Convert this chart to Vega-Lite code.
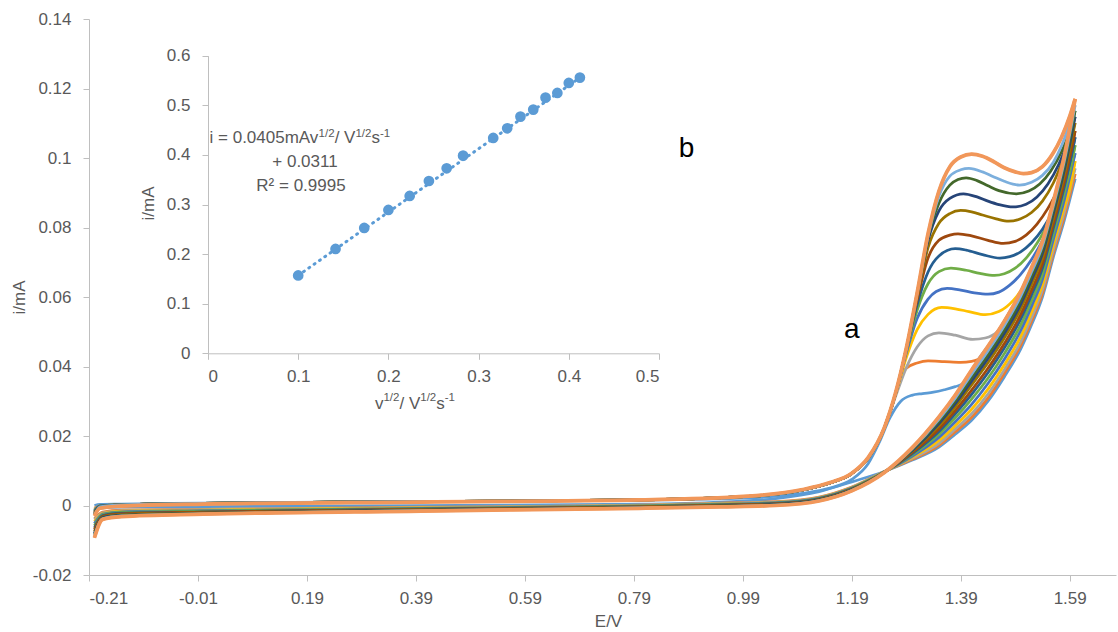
{
"$schema":"https://vega.github.io/schema/vega-lite/v6.json",
"width":1027,"height":556,"autosize":"none",
"padding":{"left":89,"top":19,"right":2,"bottom":57},
"config":{"view":{"stroke":null},"font":"Liberation Sans",
 "axis":{"domainColor":"#BFBFBF","tickColor":"#BFBFBF","tickSize":6,"labelColor":"#595959","labelFontSize":17,"labelFont":"Liberation Sans","titleColor":"#595959","titleFontSize":17,"titleFontWeight":"normal","titleFont":"Liberation Sans","grid":false}},
"datasets":{
"cv":[
{"c":1,"b":"f","E":-0.2,"i":0},{"c":1,"b":"f","E":-0.19,"i":0.0003},{"c":1,"b":"f","E":-0.15,"i":0.0004},{"c":1,"b":"f","E":0,"i":0.0007},{"c":1,"b":"f","E":0.4,"i":0.0011},{"c":1,"b":"f","E":0.8,"i":0.0015},{"c":1,"b":"f","E":1,"i":0.0022},{"c":1,"b":"f","E":1.1,"i":0.0035},{"c":1,"b":"f","E":1.15,"i":0.005},{"c":1,"b":"f","E":1.19,"i":0.0075},{"c":1,"b":"f","E":1.22,"i":0.012},{"c":1,"b":"f","E":1.24,"i":0.018},{"c":1,"b":"f","E":1.26,"i":0.0252},{"c":1,"b":"f","E":1.28,"i":0.03},{"c":1,"b":"f","E":1.3,"i":0.0317},{"c":1,"b":"f","E":1.32,"i":0.0322},{"c":1,"b":"f","E":1.34,"i":0.0326},{"c":1,"b":"f","E":1.36,"i":0.0333},{"c":1,"b":"f","E":1.38,"i":0.0342},{"c":1,"b":"f","E":1.395,"i":0.0352},{"c":1,"b":"f","E":1.42,"i":0.0415},{"c":1,"b":"f","E":1.45,"i":0.048},{"c":1,"b":"f","E":1.48,"i":0.0556},{"c":1,"b":"f","E":1.5,"i":0.061},{"c":1,"b":"f","E":1.52,"i":0.0666},{"c":1,"b":"f","E":1.54,"i":0.0726},{"c":1,"b":"f","E":1.56,"i":0.079},{"c":1,"b":"f","E":1.58,"i":0.086},{"c":1,"b":"f","E":1.6,"i":0.094},
{"c":1,"b":"r","E":1.6,"i":0.094},{"c":1,"b":"r","E":1.58,"i":0.082},{"c":1,"b":"r","E":1.56,"i":0.0715},{"c":1,"b":"r","E":1.54,"i":0.06},{"c":1,"b":"r","E":1.52,"i":0.052},{"c":1,"b":"r","E":1.5,"i":0.045},{"c":1,"b":"r","E":1.47,"i":0.037},{"c":1,"b":"r","E":1.44,"i":0.03},{"c":1,"b":"r","E":1.41,"i":0.0245},{"c":1,"b":"r","E":1.38,"i":0.0205},{"c":1,"b":"r","E":1.35,"i":0.0168},{"c":1,"b":"r","E":1.3,"i":0.013},{"c":1,"b":"r","E":1.25,"i":0.0098},{"c":1,"b":"r","E":1.19,"i":0.0068},{"c":1,"b":"r","E":1.13,"i":0.004},{"c":1,"b":"r","E":1.05,"i":0.002},{"c":1,"b":"r","E":0.95,"i":0.001},{"c":1,"b":"r","E":0.8,"i":0.0004},{"c":1,"b":"r","E":0.4,"i":0},{"c":1,"b":"r","E":0,"i":-0.0003},{"c":1,"b":"r","E":-0.15,"i":-0.0005},{"c":1,"b":"r","E":-0.185,"i":-0.0007},{"c":1,"b":"r","E":-0.2,"i":-0.0012},

{"c":2,"b":"f","E":-0.2,"i":-0.0008},{"c":2,"b":"f","E":-0.19,"i":-0.0001},{"c":2,"b":"f","E":-0.15,"i":0.0002},{"c":2,"b":"f","E":0,"i":0.0006},{"c":2,"b":"f","E":0.4,"i":0.0011},{"c":2,"b":"f","E":0.8,"i":0.0016},{"c":2,"b":"f","E":1,"i":0.0026},{"c":2,"b":"f","E":1.1,"i":0.0045},{"c":2,"b":"f","E":1.15,"i":0.0065},{"c":2,"b":"f","E":1.19,"i":0.0092},{"c":2,"b":"f","E":1.22,"i":0.0136},{"c":2,"b":"f","E":1.25,"i":0.0222},{"c":2,"b":"f","E":1.27,"i":0.0318},{"c":2,"b":"f","E":1.28,"i":0.0372},{"c":2,"b":"f","E":1.29,"i":0.0395},{"c":2,"b":"f","E":1.31,"i":0.041},{"c":2,"b":"f","E":1.33,"i":0.0416},{"c":2,"b":"f","E":1.36,"i":0.0414},{"c":2,"b":"f","E":1.39,"i":0.0412},{"c":2,"b":"f","E":1.41,"i":0.0415},{"c":2,"b":"f","E":1.43,"i":0.0428},{"c":2,"b":"f","E":1.46,"i":0.05},{"c":2,"b":"f","E":1.48,"i":0.0555},{"c":2,"b":"f","E":1.5,"i":0.061},{"c":2,"b":"f","E":1.52,"i":0.0668},{"c":2,"b":"f","E":1.54,"i":0.073},{"c":2,"b":"f","E":1.56,"i":0.0798},{"c":2,"b":"f","E":1.58,"i":0.0872},{"c":2,"b":"f","E":1.6,"i":0.0954},
{"c":2,"b":"r","E":1.6,"i":0.0954},{"c":2,"b":"r","E":1.58,"i":0.0831},{"c":2,"b":"r","E":1.56,"i":0.0725},{"c":2,"b":"r","E":1.54,"i":0.061},{"c":2,"b":"r","E":1.52,"i":0.053},{"c":2,"b":"r","E":1.5,"i":0.046},{"c":2,"b":"r","E":1.47,"i":0.038},{"c":2,"b":"r","E":1.44,"i":0.0309},{"c":2,"b":"r","E":1.41,"i":0.0254},{"c":2,"b":"r","E":1.38,"i":0.0212},{"c":2,"b":"r","E":1.35,"i":0.0173},{"c":2,"b":"r","E":1.3,"i":0.0132},{"c":2,"b":"r","E":1.25,"i":0.0098},{"c":2,"b":"r","E":1.19,"i":0.0053},{"c":2,"b":"r","E":1.13,"i":0.0024},{"c":2,"b":"r","E":1.05,"i":0.0011},{"c":2,"b":"r","E":0.95,"i":0.0007},{"c":2,"b":"r","E":0.8,"i":0.0001},{"c":2,"b":"r","E":0.4,"i":-0.0005},{"c":2,"b":"r","E":0,"i":-0.0011},{"c":2,"b":"r","E":-0.15,"i":-0.0013},{"c":2,"b":"r","E":-0.185,"i":-0.0019},{"c":2,"b":"r","E":-0.2,"i":-0.0037},

{"c":3,"b":"f","E":-0.2,"i":-0.001},{"c":3,"b":"f","E":-0.19,"i":-0.0001},{"c":3,"b":"f","E":-0.15,"i":0.0002},{"c":3,"b":"f","E":0,"i":0.0006},{"c":3,"b":"f","E":0.4,"i":0.0011},{"c":3,"b":"f","E":0.8,"i":0.0016},{"c":3,"b":"f","E":1,"i":0.0026},{"c":3,"b":"f","E":1.1,"i":0.0045},{"c":3,"b":"f","E":1.15,"i":0.0065},{"c":3,"b":"f","E":1.19,"i":0.0092},{"c":3,"b":"f","E":1.22,"i":0.0136},{"c":3,"b":"f","E":1.25,"i":0.0222},{"c":3,"b":"f","E":1.27,"i":0.0312},{"c":3,"b":"f","E":1.29,"i":0.0396},{"c":3,"b":"f","E":1.31,"i":0.0456},{"c":3,"b":"f","E":1.33,"i":0.0488},{"c":3,"b":"f","E":1.35,"i":0.0497},{"c":3,"b":"f","E":1.38,"i":0.049},{"c":3,"b":"f","E":1.412,"i":0.0478},{"c":3,"b":"f","E":1.435,"i":0.0482},{"c":3,"b":"f","E":1.457,"i":0.05},{"c":3,"b":"f","E":1.48,"i":0.0558},{"c":3,"b":"f","E":1.5,"i":0.0612},{"c":3,"b":"f","E":1.52,"i":0.067},{"c":3,"b":"f","E":1.54,"i":0.0732},{"c":3,"b":"f","E":1.56,"i":0.08},{"c":3,"b":"f","E":1.58,"i":0.0878},{"c":3,"b":"f","E":1.6,"i":0.097},
{"c":3,"b":"r","E":1.6,"i":0.097},{"c":3,"b":"r","E":1.58,"i":0.0844},{"c":3,"b":"r","E":1.56,"i":0.0736},{"c":3,"b":"r","E":1.54,"i":0.0621},{"c":3,"b":"r","E":1.52,"i":0.0541},{"c":3,"b":"r","E":1.5,"i":0.0471},{"c":3,"b":"r","E":1.47,"i":0.0391},{"c":3,"b":"r","E":1.44,"i":0.0321},{"c":3,"b":"r","E":1.41,"i":0.0264},{"c":3,"b":"r","E":1.38,"i":0.022},{"c":3,"b":"r","E":1.35,"i":0.0179},{"c":3,"b":"r","E":1.3,"i":0.0135},{"c":3,"b":"r","E":1.25,"i":0.0098},{"c":3,"b":"r","E":1.19,"i":0.0052},{"c":3,"b":"r","E":1.13,"i":0.0023},{"c":3,"b":"r","E":1.05,"i":0.001},{"c":3,"b":"r","E":0.95,"i":0.0006},{"c":3,"b":"r","E":0.8,"i":0.0001},{"c":3,"b":"r","E":0.4,"i":-0.0006},{"c":3,"b":"r","E":0,"i":-0.0012},{"c":3,"b":"r","E":-0.15,"i":-0.0015},{"c":3,"b":"r","E":-0.185,"i":-0.0021},{"c":3,"b":"r","E":-0.2,"i":-0.0041},

{"c":4,"b":"f","E":-0.2,"i":-0.0012},{"c":4,"b":"f","E":-0.19,"i":-0.0001},{"c":4,"b":"f","E":-0.15,"i":0.0002},{"c":4,"b":"f","E":0,"i":0.0006},{"c":4,"b":"f","E":0.4,"i":0.0011},{"c":4,"b":"f","E":0.8,"i":0.0016},{"c":4,"b":"f","E":1,"i":0.0026},{"c":4,"b":"f","E":1.1,"i":0.0045},{"c":4,"b":"f","E":1.15,"i":0.0065},{"c":4,"b":"f","E":1.19,"i":0.0092},{"c":4,"b":"f","E":1.22,"i":0.0136},{"c":4,"b":"f","E":1.25,"i":0.0224},{"c":4,"b":"f","E":1.27,"i":0.0318},{"c":4,"b":"f","E":1.29,"i":0.0425},{"c":4,"b":"f","E":1.31,"i":0.0506},{"c":4,"b":"f","E":1.33,"i":0.055},{"c":4,"b":"f","E":1.355,"i":0.057},{"c":4,"b":"f","E":1.38,"i":0.0566},{"c":4,"b":"f","E":1.405,"i":0.0558},{"c":4,"b":"f","E":1.435,"i":0.0549},{"c":4,"b":"f","E":1.46,"i":0.0558},{"c":4,"b":"f","E":1.487,"i":0.0591},{"c":4,"b":"f","E":1.51,"i":0.064},{"c":4,"b":"f","E":1.53,"i":0.0692},{"c":4,"b":"f","E":1.55,"i":0.0752},{"c":4,"b":"f","E":1.57,"i":0.0825},{"c":4,"b":"f","E":1.59,"i":0.091},{"c":4,"b":"f","E":1.6,"i":0.0991},
{"c":4,"b":"r","E":1.6,"i":0.0991},{"c":4,"b":"r","E":1.58,"i":0.0861},{"c":4,"b":"r","E":1.56,"i":0.075},{"c":4,"b":"r","E":1.54,"i":0.0635},{"c":4,"b":"r","E":1.52,"i":0.0556},{"c":4,"b":"r","E":1.5,"i":0.0486},{"c":4,"b":"r","E":1.47,"i":0.0405},{"c":4,"b":"r","E":1.44,"i":0.0335},{"c":4,"b":"r","E":1.41,"i":0.0277},{"c":4,"b":"r","E":1.38,"i":0.023},{"c":4,"b":"r","E":1.35,"i":0.0187},{"c":4,"b":"r","E":1.3,"i":0.0138},{"c":4,"b":"r","E":1.25,"i":0.0097},{"c":4,"b":"r","E":1.19,"i":0.0051},{"c":4,"b":"r","E":1.13,"i":0.0022},{"c":4,"b":"r","E":1.05,"i":0.0009},{"c":4,"b":"r","E":0.95,"i":0.0005},{"c":4,"b":"r","E":0.8,"i":0},{"c":4,"b":"r","E":0.4,"i":-0.0007},{"c":4,"b":"r","E":0,"i":-0.0013},{"c":4,"b":"r","E":-0.15,"i":-0.0016},{"c":4,"b":"r","E":-0.185,"i":-0.0023},{"c":4,"b":"r","E":-0.2,"i":-0.0046},

{"c":5,"b":"f","E":-0.2,"i":-0.0014},{"c":5,"b":"f","E":-0.19,"i":-0.0001},{"c":5,"b":"f","E":-0.15,"i":0.0002},{"c":5,"b":"f","E":0,"i":0.0006},{"c":5,"b":"f","E":0.4,"i":0.0011},{"c":5,"b":"f","E":0.8,"i":0.0016},{"c":5,"b":"f","E":1,"i":0.0026},{"c":5,"b":"f","E":1.1,"i":0.0045},{"c":5,"b":"f","E":1.15,"i":0.0065},{"c":5,"b":"f","E":1.19,"i":0.0092},{"c":5,"b":"f","E":1.22,"i":0.0136},{"c":5,"b":"f","E":1.25,"i":0.0225},{"c":5,"b":"f","E":1.27,"i":0.032},{"c":5,"b":"f","E":1.29,"i":0.0438},{"c":5,"b":"f","E":1.31,"i":0.0538},{"c":5,"b":"f","E":1.33,"i":0.0594},{"c":5,"b":"f","E":1.345,"i":0.0616},{"c":5,"b":"f","E":1.365,"i":0.0625},{"c":5,"b":"f","E":1.39,"i":0.062},{"c":5,"b":"f","E":1.415,"i":0.0612},{"c":5,"b":"f","E":1.44,"i":0.0608},{"c":5,"b":"f","E":1.46,"i":0.0614},{"c":5,"b":"f","E":1.48,"i":0.0634},{"c":5,"b":"f","E":1.5,"i":0.0665},{"c":5,"b":"f","E":1.52,"i":0.0708},{"c":5,"b":"f","E":1.54,"i":0.0762},{"c":5,"b":"f","E":1.56,"i":0.0828},{"c":5,"b":"f","E":1.58,"i":0.0908},{"c":5,"b":"f","E":1.6,"i":0.1014},
{"c":5,"b":"r","E":1.6,"i":0.1014},{"c":5,"b":"r","E":1.58,"i":0.0879},{"c":5,"b":"r","E":1.56,"i":0.0766},{"c":5,"b":"r","E":1.54,"i":0.0651},{"c":5,"b":"r","E":1.52,"i":0.0573},{"c":5,"b":"r","E":1.5,"i":0.0503},{"c":5,"b":"r","E":1.47,"i":0.0421},{"c":5,"b":"r","E":1.44,"i":0.0351},{"c":5,"b":"r","E":1.41,"i":0.0291},{"c":5,"b":"r","E":1.38,"i":0.0241},{"c":5,"b":"r","E":1.35,"i":0.0196},{"c":5,"b":"r","E":1.3,"i":0.0141},{"c":5,"b":"r","E":1.25,"i":0.0097},{"c":5,"b":"r","E":1.19,"i":0.005},{"c":5,"b":"r","E":1.13,"i":0.0021},{"c":5,"b":"r","E":1.05,"i":0.0008},{"c":5,"b":"r","E":0.95,"i":0.0004},{"c":5,"b":"r","E":0.8,"i":-0.0001},{"c":5,"b":"r","E":0.4,"i":-0.0008},{"c":5,"b":"r","E":0,"i":-0.0015},{"c":5,"b":"r","E":-0.15,"i":-0.0018},{"c":5,"b":"r","E":-0.185,"i":-0.0025},{"c":5,"b":"r","E":-0.2,"i":-0.0052},

{"c":6,"b":"f","E":-0.2,"i":-0.0016},{"c":6,"b":"f","E":-0.19,"i":-0.0001},{"c":6,"b":"f","E":-0.15,"i":0.0002},{"c":6,"b":"f","E":0,"i":0.0006},{"c":6,"b":"f","E":0.4,"i":0.0011},{"c":6,"b":"f","E":0.8,"i":0.0016},{"c":6,"b":"f","E":1,"i":0.0026},{"c":6,"b":"f","E":1.1,"i":0.0045},{"c":6,"b":"f","E":1.15,"i":0.0065},{"c":6,"b":"f","E":1.19,"i":0.0092},{"c":6,"b":"f","E":1.22,"i":0.0136},{"c":6,"b":"f","E":1.25,"i":0.0224},{"c":6,"b":"f","E":1.27,"i":0.032},{"c":6,"b":"f","E":1.29,"i":0.0445},{"c":6,"b":"f","E":1.31,"i":0.0562},{"c":6,"b":"f","E":1.33,"i":0.0638},{"c":6,"b":"f","E":1.35,"i":0.0673},{"c":6,"b":"f","E":1.372,"i":0.0683},{"c":6,"b":"f","E":1.4,"i":0.0677},{"c":6,"b":"f","E":1.425,"i":0.0668},{"c":6,"b":"f","E":1.452,"i":0.0662},{"c":6,"b":"f","E":1.47,"i":0.0667},{"c":6,"b":"f","E":1.49,"i":0.0683},{"c":6,"b":"f","E":1.51,"i":0.0712},{"c":6,"b":"f","E":1.53,"i":0.0755},{"c":6,"b":"f","E":1.55,"i":0.081},{"c":6,"b":"f","E":1.57,"i":0.0875},{"c":6,"b":"f","E":1.59,"i":0.096},{"c":6,"b":"f","E":1.6,"i":0.1037},
{"c":6,"b":"r","E":1.6,"i":0.1037},{"c":6,"b":"r","E":1.58,"i":0.0898},{"c":6,"b":"r","E":1.56,"i":0.0782},{"c":6,"b":"r","E":1.54,"i":0.0667},{"c":6,"b":"r","E":1.52,"i":0.0589},{"c":6,"b":"r","E":1.5,"i":0.0519},{"c":6,"b":"r","E":1.47,"i":0.0437},{"c":6,"b":"r","E":1.44,"i":0.0366},{"c":6,"b":"r","E":1.41,"i":0.0306},{"c":6,"b":"r","E":1.38,"i":0.0252},{"c":6,"b":"r","E":1.35,"i":0.0205},{"c":6,"b":"r","E":1.3,"i":0.0145},{"c":6,"b":"r","E":1.25,"i":0.0097},{"c":6,"b":"r","E":1.19,"i":0.0049},{"c":6,"b":"r","E":1.13,"i":0.002},{"c":6,"b":"r","E":1.05,"i":0.0007},{"c":6,"b":"r","E":0.95,"i":0.0003},{"c":6,"b":"r","E":0.8,"i":-0.0002},{"c":6,"b":"r","E":0.4,"i":-0.0009},{"c":6,"b":"r","E":0,"i":-0.0016},{"c":6,"b":"r","E":-0.15,"i":-0.002},{"c":6,"b":"r","E":-0.185,"i":-0.0027},{"c":6,"b":"r","E":-0.2,"i":-0.0058},

{"c":7,"b":"f","E":-0.2,"i":-0.0018},{"c":7,"b":"f","E":-0.19,"i":-0.0001},{"c":7,"b":"f","E":-0.15,"i":0.0002},{"c":7,"b":"f","E":0,"i":0.0006},{"c":7,"b":"f","E":0.4,"i":0.0011},{"c":7,"b":"f","E":0.8,"i":0.0016},{"c":7,"b":"f","E":1,"i":0.0026},{"c":7,"b":"f","E":1.1,"i":0.0045},{"c":7,"b":"f","E":1.15,"i":0.0065},{"c":7,"b":"f","E":1.19,"i":0.0092},{"c":7,"b":"f","E":1.22,"i":0.0136},{"c":7,"b":"f","E":1.25,"i":0.0224},{"c":7,"b":"f","E":1.27,"i":0.032},{"c":7,"b":"f","E":1.29,"i":0.0448},{"c":7,"b":"f","E":1.31,"i":0.0578},{"c":7,"b":"f","E":1.33,"i":0.0672},{"c":7,"b":"f","E":1.35,"i":0.0718},{"c":7,"b":"f","E":1.38,"i":0.0739},{"c":7,"b":"f","E":1.4,"i":0.0735},{"c":7,"b":"f","E":1.43,"i":0.0722},{"c":7,"b":"f","E":1.462,"i":0.0712},{"c":7,"b":"f","E":1.48,"i":0.0716},{"c":7,"b":"f","E":1.5,"i":0.073},{"c":7,"b":"f","E":1.52,"i":0.0756},{"c":7,"b":"f","E":1.54,"i":0.0795},{"c":7,"b":"f","E":1.56,"i":0.085},{"c":7,"b":"f","E":1.58,"i":0.0925},{"c":7,"b":"f","E":1.59,"i":0.0985},{"c":7,"b":"f","E":1.6,"i":0.106},
{"c":7,"b":"r","E":1.6,"i":0.106},{"c":7,"b":"r","E":1.58,"i":0.0916},{"c":7,"b":"r","E":1.56,"i":0.0798},{"c":7,"b":"r","E":1.54,"i":0.0683},{"c":7,"b":"r","E":1.52,"i":0.0606},{"c":7,"b":"r","E":1.5,"i":0.0536},{"c":7,"b":"r","E":1.47,"i":0.0453},{"c":7,"b":"r","E":1.44,"i":0.0382},{"c":7,"b":"r","E":1.41,"i":0.032},{"c":7,"b":"r","E":1.38,"i":0.0264},{"c":7,"b":"r","E":1.35,"i":0.0213},{"c":7,"b":"r","E":1.3,"i":0.0148},{"c":7,"b":"r","E":1.25,"i":0.0096},{"c":7,"b":"r","E":1.19,"i":0.0048},{"c":7,"b":"r","E":1.13,"i":0.0019},{"c":7,"b":"r","E":1.05,"i":0.0006},{"c":7,"b":"r","E":0.95,"i":0.0002},{"c":7,"b":"r","E":0.8,"i":-0.0003},{"c":7,"b":"r","E":0.4,"i":-0.001},{"c":7,"b":"r","E":0,"i":-0.0018},{"c":7,"b":"r","E":-0.15,"i":-0.0022},{"c":7,"b":"r","E":-0.185,"i":-0.0029},{"c":7,"b":"r","E":-0.2,"i":-0.0064},

{"c":8,"b":"f","E":-0.2,"i":-0.002},{"c":8,"b":"f","E":-0.19,"i":-0.0004},{"c":8,"b":"f","E":-0.15,"i":0.0002},{"c":8,"b":"f","E":0,"i":0.0006},{"c":8,"b":"f","E":0.4,"i":0.0011},{"c":8,"b":"f","E":0.8,"i":0.0016},{"c":8,"b":"f","E":1,"i":0.0026},{"c":8,"b":"f","E":1.1,"i":0.0045},{"c":8,"b":"f","E":1.15,"i":0.0065},{"c":8,"b":"f","E":1.19,"i":0.0092},{"c":8,"b":"f","E":1.22,"i":0.0136},{"c":8,"b":"f","E":1.25,"i":0.0224},{"c":8,"b":"f","E":1.27,"i":0.032},{"c":8,"b":"f","E":1.29,"i":0.0449},{"c":8,"b":"f","E":1.31,"i":0.0592},{"c":8,"b":"f","E":1.33,"i":0.0712},{"c":8,"b":"f","E":1.35,"i":0.0763},{"c":8,"b":"f","E":1.37,"i":0.0778},{"c":8,"b":"f","E":1.385,"i":0.0782},{"c":8,"b":"f","E":1.41,"i":0.0776},{"c":8,"b":"f","E":1.44,"i":0.0763},{"c":8,"b":"f","E":1.468,"i":0.0754},{"c":8,"b":"f","E":1.49,"i":0.076},{"c":8,"b":"f","E":1.51,"i":0.0778},{"c":8,"b":"f","E":1.53,"i":0.081},{"c":8,"b":"f","E":1.55,"i":0.0855},{"c":8,"b":"f","E":1.57,"i":0.0915},{"c":8,"b":"f","E":1.59,"i":0.1005},{"c":8,"b":"f","E":1.6,"i":0.1078},
{"c":8,"b":"r","E":1.6,"i":0.1078},{"c":8,"b":"r","E":1.58,"i":0.0931},{"c":8,"b":"r","E":1.56,"i":0.0811},{"c":8,"b":"r","E":1.54,"i":0.0696},{"c":8,"b":"r","E":1.52,"i":0.0619},{"c":8,"b":"r","E":1.5,"i":0.0549},{"c":8,"b":"r","E":1.47,"i":0.0466},{"c":8,"b":"r","E":1.44,"i":0.0395},{"c":8,"b":"r","E":1.41,"i":0.0332},{"c":8,"b":"r","E":1.38,"i":0.0273},{"c":8,"b":"r","E":1.35,"i":0.022},{"c":8,"b":"r","E":1.3,"i":0.0151},{"c":8,"b":"r","E":1.25,"i":0.0096},{"c":8,"b":"r","E":1.19,"i":0.0047},{"c":8,"b":"r","E":1.13,"i":0.0018},{"c":8,"b":"r","E":1.05,"i":0.0005},{"c":8,"b":"r","E":0.95,"i":0.0001},{"c":8,"b":"r","E":0.8,"i":-0.0004},{"c":8,"b":"r","E":0.4,"i":-0.0011},{"c":8,"b":"r","E":0,"i":-0.0019},{"c":8,"b":"r","E":-0.15,"i":-0.0024},{"c":8,"b":"r","E":-0.185,"i":-0.0031},{"c":8,"b":"r","E":-0.2,"i":-0.0069},

{"c":10,"b":"f","E":-0.2,"i":-0.0022},{"c":10,"b":"f","E":-0.19,"i":-0.0004},{"c":10,"b":"f","E":-0.15,"i":0.0002},{"c":10,"b":"f","E":0,"i":0.0006},{"c":10,"b":"f","E":0.4,"i":0.0011},{"c":10,"b":"f","E":0.8,"i":0.0016},{"c":10,"b":"f","E":1,"i":0.0026},{"c":10,"b":"f","E":1.1,"i":0.0045},{"c":10,"b":"f","E":1.15,"i":0.0065},{"c":10,"b":"f","E":1.19,"i":0.0092},{"c":10,"b":"f","E":1.22,"i":0.0136},{"c":10,"b":"f","E":1.25,"i":0.0224},{"c":10,"b":"f","E":1.27,"i":0.032},{"c":10,"b":"f","E":1.29,"i":0.045},{"c":10,"b":"f","E":1.31,"i":0.06},{"c":10,"b":"f","E":1.33,"i":0.0742},{"c":10,"b":"f","E":1.35,"i":0.0812},{"c":10,"b":"f","E":1.37,"i":0.084},{"c":10,"b":"f","E":1.39,"i":0.0849},{"c":10,"b":"f","E":1.41,"i":0.0845},{"c":10,"b":"f","E":1.43,"i":0.0836},{"c":10,"b":"f","E":1.455,"i":0.0825},{"c":10,"b":"f","E":1.478,"i":0.0818},{"c":10,"b":"f","E":1.5,"i":0.0825},{"c":10,"b":"f","E":1.52,"i":0.0843},{"c":10,"b":"f","E":1.54,"i":0.0876},{"c":10,"b":"f","E":1.56,"i":0.0928},{"c":10,"b":"f","E":1.58,"i":0.1005},{"c":10,"b":"f","E":1.6,"i":0.1101},
{"c":10,"b":"r","E":1.6,"i":0.1101},{"c":10,"b":"r","E":1.58,"i":0.095},{"c":10,"b":"r","E":1.56,"i":0.0827},{"c":10,"b":"r","E":1.54,"i":0.0712},{"c":10,"b":"r","E":1.52,"i":0.0636},{"c":10,"b":"r","E":1.5,"i":0.0566},{"c":10,"b":"r","E":1.47,"i":0.0482},{"c":10,"b":"r","E":1.44,"i":0.0411},{"c":10,"b":"r","E":1.41,"i":0.0347},{"c":10,"b":"r","E":1.38,"i":0.0284},{"c":10,"b":"r","E":1.35,"i":0.0229},{"c":10,"b":"r","E":1.3,"i":0.0155},{"c":10,"b":"r","E":1.25,"i":0.0096},{"c":10,"b":"r","E":1.19,"i":0.0046},{"c":10,"b":"r","E":1.13,"i":0.0017},{"c":10,"b":"r","E":1.05,"i":0.0004},{"c":10,"b":"r","E":0.95,"i":0},{"c":10,"b":"r","E":0.8,"i":-0.0005},{"c":10,"b":"r","E":0.4,"i":-0.0012},{"c":10,"b":"r","E":0,"i":-0.0021},{"c":10,"b":"r","E":-0.15,"i":-0.0026},{"c":10,"b":"r","E":-0.185,"i":-0.0033},{"c":10,"b":"r","E":-0.2,"i":-0.0075},

{"c":11,"b":"f","E":-0.2,"i":-0.0024},{"c":11,"b":"f","E":-0.19,"i":-0.0004},{"c":11,"b":"f","E":-0.15,"i":0.0002},{"c":11,"b":"f","E":0,"i":0.0006},{"c":11,"b":"f","E":0.4,"i":0.0011},{"c":11,"b":"f","E":0.8,"i":0.0016},{"c":11,"b":"f","E":1,"i":0.0026},{"c":11,"b":"f","E":1.1,"i":0.0045},{"c":11,"b":"f","E":1.15,"i":0.0065},{"c":11,"b":"f","E":1.19,"i":0.0092},{"c":11,"b":"f","E":1.22,"i":0.0136},{"c":11,"b":"f","E":1.25,"i":0.0224},{"c":11,"b":"f","E":1.27,"i":0.032},{"c":11,"b":"f","E":1.29,"i":0.045},{"c":11,"b":"f","E":1.31,"i":0.0605},{"c":11,"b":"f","E":1.33,"i":0.0762},{"c":11,"b":"f","E":1.35,"i":0.0848},{"c":11,"b":"f","E":1.37,"i":0.0884},{"c":11,"b":"f","E":1.395,"i":0.0897},{"c":11,"b":"f","E":1.42,"i":0.0888},{"c":11,"b":"f","E":1.44,"i":0.0876},{"c":11,"b":"f","E":1.46,"i":0.0866},{"c":11,"b":"f","E":1.486,"i":0.0859},{"c":11,"b":"f","E":1.51,"i":0.0867},{"c":11,"b":"f","E":1.53,"i":0.0888},{"c":11,"b":"f","E":1.55,"i":0.0925},{"c":11,"b":"f","E":1.57,"i":0.0982},{"c":11,"b":"f","E":1.59,"i":0.1062},{"c":11,"b":"f","E":1.6,"i":0.1119},
{"c":11,"b":"r","E":1.6,"i":0.1119},{"c":11,"b":"r","E":1.58,"i":0.0964},{"c":11,"b":"r","E":1.56,"i":0.084},{"c":11,"b":"r","E":1.54,"i":0.0725},{"c":11,"b":"r","E":1.52,"i":0.0649},{"c":11,"b":"r","E":1.5,"i":0.0579},{"c":11,"b":"r","E":1.47,"i":0.0495},{"c":11,"b":"r","E":1.44,"i":0.0423},{"c":11,"b":"r","E":1.41,"i":0.0358},{"c":11,"b":"r","E":1.38,"i":0.0293},{"c":11,"b":"r","E":1.35,"i":0.0236},{"c":11,"b":"r","E":1.3,"i":0.0157},{"c":11,"b":"r","E":1.25,"i":0.0096},{"c":11,"b":"r","E":1.19,"i":0.0045},{"c":11,"b":"r","E":1.13,"i":0.0016},{"c":11,"b":"r","E":1.05,"i":0.0003},{"c":11,"b":"r","E":0.95,"i":-0.0001},{"c":11,"b":"r","E":0.8,"i":-0.0006},{"c":11,"b":"r","E":0.4,"i":-0.0013},{"c":11,"b":"r","E":0,"i":-0.0022},{"c":11,"b":"r","E":-0.15,"i":-0.0028},{"c":11,"b":"r","E":-0.185,"i":-0.0035},{"c":11,"b":"r","E":-0.2,"i":-0.008},

{"c":12,"b":"f","E":-0.2,"i":-0.0026},{"c":12,"b":"f","E":-0.19,"i":-0.0004},{"c":12,"b":"f","E":-0.15,"i":0.0002},{"c":12,"b":"f","E":0,"i":0.0006},{"c":12,"b":"f","E":0.4,"i":0.0011},{"c":12,"b":"f","E":0.8,"i":0.0016},{"c":12,"b":"f","E":1,"i":0.0026},{"c":12,"b":"f","E":1.1,"i":0.0045},{"c":12,"b":"f","E":1.15,"i":0.0065},{"c":12,"b":"f","E":1.19,"i":0.0092},{"c":12,"b":"f","E":1.22,"i":0.0136},{"c":12,"b":"f","E":1.25,"i":0.0224},{"c":12,"b":"f","E":1.27,"i":0.032},{"c":12,"b":"f","E":1.29,"i":0.045},{"c":12,"b":"f","E":1.31,"i":0.061},{"c":12,"b":"f","E":1.33,"i":0.0772},{"c":12,"b":"f","E":1.35,"i":0.087},{"c":12,"b":"f","E":1.37,"i":0.0922},{"c":12,"b":"f","E":1.385,"i":0.0938},{"c":12,"b":"f","E":1.4,"i":0.0943},{"c":12,"b":"f","E":1.42,"i":0.0935},{"c":12,"b":"f","E":1.44,"i":0.092},{"c":12,"b":"f","E":1.46,"i":0.0906},{"c":12,"b":"f","E":1.492,"i":0.0897},{"c":12,"b":"f","E":1.515,"i":0.0905},{"c":12,"b":"f","E":1.535,"i":0.0925},{"c":12,"b":"f","E":1.555,"i":0.0962},{"c":12,"b":"f","E":1.575,"i":0.1018},{"c":12,"b":"f","E":1.59,"i":0.1078},{"c":12,"b":"f","E":1.6,"i":0.1136},
{"c":12,"b":"r","E":1.6,"i":0.1136},{"c":12,"b":"r","E":1.58,"i":0.0977},{"c":12,"b":"r","E":1.56,"i":0.0851},{"c":12,"b":"r","E":1.54,"i":0.0736},{"c":12,"b":"r","E":1.52,"i":0.066},{"c":12,"b":"r","E":1.5,"i":0.059},{"c":12,"b":"r","E":1.47,"i":0.0506},{"c":12,"b":"r","E":1.44,"i":0.0434},{"c":12,"b":"r","E":1.41,"i":0.0368},{"c":12,"b":"r","E":1.38,"i":0.0301},{"c":12,"b":"r","E":1.35,"i":0.0242},{"c":12,"b":"r","E":1.3,"i":0.016},{"c":12,"b":"r","E":1.25,"i":0.0095},{"c":12,"b":"r","E":1.19,"i":0.0044},{"c":12,"b":"r","E":1.13,"i":0.0015},{"c":12,"b":"r","E":1.05,"i":0.0002},{"c":12,"b":"r","E":0.95,"i":-0.0002},{"c":12,"b":"r","E":0.8,"i":-0.0007},{"c":12,"b":"r","E":0.4,"i":-0.0014},{"c":12,"b":"r","E":0,"i":-0.0023},{"c":12,"b":"r","E":-0.15,"i":-0.0029},{"c":12,"b":"r","E":-0.185,"i":-0.0037},{"c":12,"b":"r","E":-0.2,"i":-0.0084},

{"c":13,"b":"f","E":-0.2,"i":-0.0028},{"c":13,"b":"f","E":-0.19,"i":-0.0004},{"c":13,"b":"f","E":-0.15,"i":0.0002},{"c":13,"b":"f","E":0,"i":0.0006},{"c":13,"b":"f","E":0.4,"i":0.0011},{"c":13,"b":"f","E":0.8,"i":0.0016},{"c":13,"b":"f","E":1,"i":0.0026},{"c":13,"b":"f","E":1.1,"i":0.0045},{"c":13,"b":"f","E":1.15,"i":0.0065},{"c":13,"b":"f","E":1.19,"i":0.0092},{"c":13,"b":"f","E":1.22,"i":0.0136},{"c":13,"b":"f","E":1.25,"i":0.0224},{"c":13,"b":"f","E":1.27,"i":0.032},{"c":13,"b":"f","E":1.29,"i":0.045},{"c":13,"b":"f","E":1.31,"i":0.061},{"c":13,"b":"f","E":1.33,"i":0.0775},{"c":13,"b":"f","E":1.35,"i":0.089},{"c":13,"b":"f","E":1.37,"i":0.0948},{"c":13,"b":"f","E":1.39,"i":0.0966},{"c":13,"b":"f","E":1.405,"i":0.097},{"c":13,"b":"f","E":1.43,"i":0.096},{"c":13,"b":"f","E":1.45,"i":0.0946},{"c":13,"b":"f","E":1.47,"i":0.0933},{"c":13,"b":"f","E":1.498,"i":0.0922},{"c":13,"b":"f","E":1.52,"i":0.093},{"c":13,"b":"f","E":1.54,"i":0.095},{"c":13,"b":"f","E":1.56,"i":0.0988},{"c":13,"b":"f","E":1.575,"i":0.1035},{"c":13,"b":"f","E":1.59,"i":0.11},{"c":13,"b":"f","E":1.6,"i":0.1152},
{"c":13,"b":"r","E":1.6,"i":0.1152},{"c":13,"b":"r","E":1.58,"i":0.099},{"c":13,"b":"r","E":1.56,"i":0.0862},{"c":13,"b":"r","E":1.54,"i":0.0747},{"c":13,"b":"r","E":1.52,"i":0.0672},{"c":13,"b":"r","E":1.5,"i":0.0602},{"c":13,"b":"r","E":1.47,"i":0.0517},{"c":13,"b":"r","E":1.44,"i":0.0445},{"c":13,"b":"r","E":1.41,"i":0.0378},{"c":13,"b":"r","E":1.38,"i":0.0309},{"c":13,"b":"r","E":1.35,"i":0.0248},{"c":13,"b":"r","E":1.3,"i":0.0162},{"c":13,"b":"r","E":1.25,"i":0.0095},{"c":13,"b":"r","E":1.19,"i":0.0043},{"c":13,"b":"r","E":1.13,"i":0.0014},{"c":13,"b":"r","E":1.05,"i":0.0001},{"c":13,"b":"r","E":0.95,"i":-0.0003},{"c":13,"b":"r","E":0.8,"i":-0.0007},{"c":13,"b":"r","E":0.4,"i":-0.0015},{"c":13,"b":"r","E":0,"i":-0.0024},{"c":13,"b":"r","E":-0.15,"i":-0.003},{"c":13,"b":"r","E":-0.185,"i":-0.0038},{"c":13,"b":"r","E":-0.2,"i":-0.0088},

{"c":14,"b":"f","E":-0.2,"i":-0.003},{"c":14,"b":"f","E":-0.19,"i":-0.0008},{"c":14,"b":"f","E":-0.15,"i":-0.0002},{"c":14,"b":"f","E":0,"i":0.0004},{"c":14,"b":"f","E":0.4,"i":0.001},{"c":14,"b":"f","E":0.8,"i":0.0016},{"c":14,"b":"f","E":1,"i":0.0027},{"c":14,"b":"f","E":1.1,"i":0.0046},{"c":14,"b":"f","E":1.15,"i":0.0066},{"c":14,"b":"f","E":1.19,"i":0.0093},{"c":14,"b":"f","E":1.22,"i":0.0138},{"c":14,"b":"f","E":1.25,"i":0.0225},{"c":14,"b":"f","E":1.27,"i":0.0322},{"c":14,"b":"f","E":1.29,"i":0.0452},{"c":14,"b":"f","E":1.31,"i":0.0612},{"c":14,"b":"f","E":1.33,"i":0.0782},{"c":14,"b":"f","E":1.35,"i":0.0905},{"c":14,"b":"f","E":1.37,"i":0.0975},{"c":14,"b":"f","E":1.39,"i":0.1003},{"c":14,"b":"f","E":1.41,"i":0.1011},{"c":14,"b":"f","E":1.43,"i":0.1005},{"c":14,"b":"f","E":1.45,"i":0.099},{"c":14,"b":"f","E":1.47,"i":0.0972},{"c":14,"b":"f","E":1.49,"i":0.096},{"c":14,"b":"f","E":1.505,"i":0.0955},{"c":14,"b":"f","E":1.52,"i":0.0958},{"c":14,"b":"f","E":1.54,"i":0.0975},{"c":14,"b":"f","E":1.56,"i":0.1015},{"c":14,"b":"f","E":1.575,"i":0.106},{"c":14,"b":"f","E":1.59,"i":0.112},{"c":14,"b":"f","E":1.6,"i":0.117},
{"c":14,"b":"r","E":1.6,"i":0.117},{"c":14,"b":"r","E":1.58,"i":0.1005},{"c":14,"b":"r","E":1.56,"i":0.0875},{"c":14,"b":"r","E":1.54,"i":0.076},{"c":14,"b":"r","E":1.52,"i":0.0685},{"c":14,"b":"r","E":1.5,"i":0.0615},{"c":14,"b":"r","E":1.47,"i":0.053},{"c":14,"b":"r","E":1.44,"i":0.0458},{"c":14,"b":"r","E":1.41,"i":0.039},{"c":14,"b":"r","E":1.38,"i":0.0318},{"c":14,"b":"r","E":1.35,"i":0.0255},{"c":14,"b":"r","E":1.3,"i":0.0165},{"c":14,"b":"r","E":1.25,"i":0.0095},{"c":14,"b":"r","E":1.19,"i":0.0042},{"c":14,"b":"r","E":1.13,"i":0.0013},{"c":14,"b":"r","E":1.05,"i":0},{"c":14,"b":"r","E":0.95,"i":-0.0004},{"c":14,"b":"r","E":0.8,"i":-0.0008},{"c":14,"b":"r","E":0.4,"i":-0.0016},{"c":14,"b":"r","E":0,"i":-0.0025},{"c":14,"b":"r","E":-0.15,"i":-0.0032},{"c":14,"b":"r","E":-0.185,"i":-0.004},{"c":14,"b":"r","E":-0.2,"i":-0.0093}
],
"pts":[
{"v":0.1,"I":0.157},{"v":0.1414,"I":0.2104},{"v":0.1732,"I":0.2527},{"v":0.2,"I":0.289},{"v":0.2236,"I":0.3172},{"v":0.2449,"I":0.3474},{"v":0.2646,"I":0.373},{"v":0.2828,"I":0.3985},{"v":0.3162,"I":0.4341},{"v":0.3317,"I":0.4536},{"v":0.3464,"I":0.4772},{"v":0.3606,"I":0.4913},{"v":0.3742,"I":0.5155},{"v":0.3873,"I":0.5249},{"v":0.4,"I":0.545},{"v":0.4123,"I":0.5558}
],
"fit":[{"v":0.1,"I":0.157},{"v":0.4123,"I":0.5558}],
"eq":[
{"t":"i = 0.0405mAv","v":0.0017,"I":0.425,"r":"b"},
{"t":"1/2","v":0.1226,"I":0.437,"r":"s"},
{"t":"/ V","v":0.1404,"I":0.425,"r":"b"},
{"t":"1/2","v":0.1634,"I":0.437,"r":"s"},
{"t":"s","v":0.1812,"I":0.425,"r":"b"},
{"t":"-1","v":0.1906,"I":0.437,"r":"s"},
{"t":"+ 0.0311","v":0.1075,"I":0.3762,"r":"c"},
{"t":"R² = 0.9995","v":0.1031,"I":0.3278,"r":"c"},
{"t":"v","v":0.1851,"I":-0.1129,"r":"b"},
{"t":"1/2","v":0.1945,"I":-0.0968,"r":"s"},
{"t":"/ V","v":0.2123,"I":-0.1129,"r":"b"},
{"t":"1/2","v":0.2353,"I":-0.0968,"r":"s"},
{"t":"s","v":0.2531,"I":-0.1129,"r":"b"},
{"t":"-1","v":0.2625,"I":-0.0968,"r":"s"}
],
"ab":[{"t":"a","E":1.19,"i":0.0481},{"t":"b","E":0.8866,"i":0.1004}]
},
"layer":[
 {"layer":[
  {"data":{"name":"cv"},
   "mark":{"type":"line","interpolate":"monotone","strokeWidth":2.75},
   "encoding":{
    "x":{"field":"E","type":"quantitative","scale":{"domain":[-0.21,1.675],"nice":false,"zero":false},
     "axis":{"values":[-0.21,-0.01,0.19,0.39,0.59,0.79,0.99,1.19,1.39,1.59],"labelExpr":"replace(format(datum.value, '.2f'), '\u2212', '-')","labelPadding":9,"title":"E/V","titleX":519,"titleY":51,"titleAlign":"center","titleBaseline":"alphabetic"}},
    "y":{"field":"i","type":"quantitative","scale":{"domain":[-0.02,0.14],"nice":false,"zero":false},
     "axis":{"values":[-0.02,0,0.02,0.04,0.06,0.08,0.1,0.12,0.14],"labelExpr":"replace(format(datum.value, '~g'), '\u2212', '-')","labelPadding":12,"title":"i/mA","titleX":-70,"titleY":278,"titleAngle":270,"titleAlign":"center","titleBaseline":"middle"}},
    "color":{"field":"c","type":"nominal","legend":null,
     "scale":{"domain":[1,2,3,4,5,6,7,8,10,11,12,13,14],"range":["#5B9BD5","#ED7D31","#A5A5A5","#FFC000","#4472C4","#70AD47","#255E91","#9E480E","#997300","#264478","#43682B","#7CAFDD","#F1975A"]}},
    "detail":{"field":"b","type":"nominal"}}},
  {"data":{"name":"cv"},
   "transform":[{"filter":"datum.c == 14"}],
   "mark":{"type":"line","interpolate":"monotone","strokeWidth":3.75,"color":"#F1975A"},
   "encoding":{"x":{"field":"E","type":"quantitative"},"y":{"field":"i","type":"quantitative"},"detail":{"field":"b","type":"nominal"}}},
  {"data":{"name":"ab"},
   "mark":{"type":"text","fontSize":28,"font":"Liberation Sans","color":"#000000","align":"center","baseline":"alphabetic"},
   "encoding":{"x":{"field":"E","type":"quantitative"},"y":{"field":"i","type":"quantitative"},"text":{"field":"t"}}}
 ]},
 {"layer":[
  {"data":{"name":"fit"},
   "mark":{"type":"line","color":"#5B9BD5","strokeWidth":3,"strokeDash":[1,5.5],"strokeCap":"round"},
   "encoding":{
    "x":{"field":"v","type":"quantitative","scale":{"domain":[0,0.5],"range":[119,570],"nice":false,"zero":false},
     "axis":{"orient":"bottom","offset":-221.7,"values":[0,0.1,0.2,0.3,0.4,0.5],"labelExpr":"format(datum.value, '~g')","labelPadding":9,"title":null}},
    "y":{"field":"I","type":"quantitative","scale":{"domain":[0,0.6],"range":[334.3,36.7],"nice":false,"zero":false},
     "axis":{"orient":"left","offset":-119,"values":[0,0.1,0.2,0.3,0.4,0.5,0.6],"labelExpr":"format(datum.value, '~g')","labelPadding":12,"title":"i/mA","titleX":-60,"titleY":184,"titleAngle":270,"titleAlign":"center","titleBaseline":"middle"}}}},
  {"data":{"name":"pts"},
   "mark":{"type":"circle","size":115,"color":"#5B9BD5","opacity":1},
   "encoding":{"x":{"field":"v","type":"quantitative"},"y":{"field":"I","type":"quantitative"}}},
  {"data":{"name":"eq"},"transform":[{"filter":"datum.r == 'b'"}],
   "mark":{"type":"text","fontSize":17,"font":"Liberation Sans","color":"#595959","align":"left","baseline":"alphabetic"},
   "encoding":{"x":{"field":"v","type":"quantitative"},"y":{"field":"I","type":"quantitative"},"text":{"field":"t"}}},
  {"data":{"name":"eq"},"transform":[{"filter":"datum.r == 's'"}],
   "mark":{"type":"text","fontSize":11.5,"font":"Liberation Sans","color":"#595959","align":"left","baseline":"alphabetic"},
   "encoding":{"x":{"field":"v","type":"quantitative"},"y":{"field":"I","type":"quantitative"},"text":{"field":"t"}}},
  {"data":{"name":"eq"},"transform":[{"filter":"datum.r == 'c'"}],
   "mark":{"type":"text","fontSize":17,"font":"Liberation Sans","color":"#595959","align":"center","baseline":"alphabetic"},
   "encoding":{"x":{"field":"v","type":"quantitative"},"y":{"field":"I","type":"quantitative"},"text":{"field":"t"}}}
 ]}
],
"resolve":{"scale":{"x":"independent","y":"independent","color":"independent"},"axis":{"x":"independent","y":"independent"}}
}
